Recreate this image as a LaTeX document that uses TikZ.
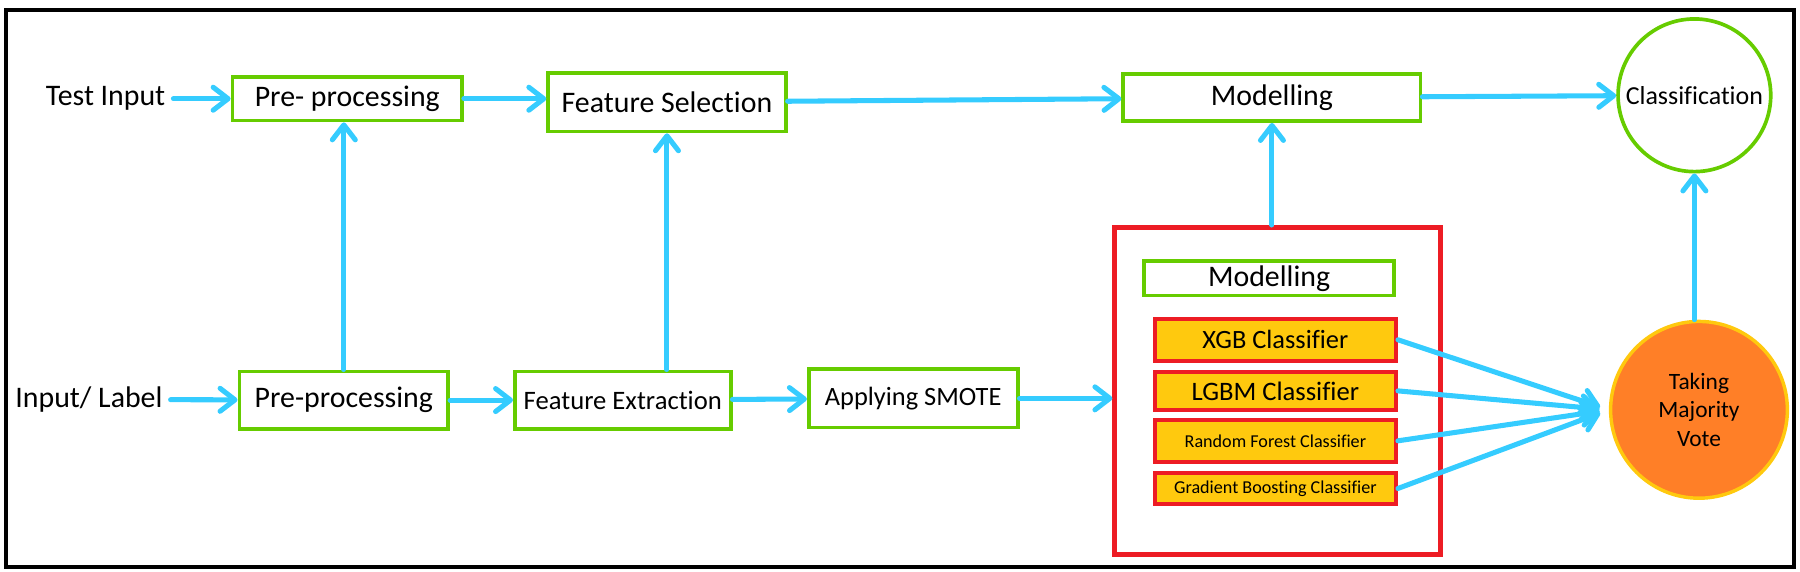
\documentclass[tikz,border=0pt]{standalone}
\usepackage{fontspec}
\setmainfont[Ligatures=NoCommon]{Carlito}
\usetikzlibrary{arrows.meta,positioning}
\definecolor{boxgreen}{RGB}{102,204,0}
\definecolor{arrowblue}{RGB}{53,204,255}
\definecolor{clsgold}{RGB}{255,201,14}
\definecolor{clsred}{RGB}{237,28,36}
\definecolor{voteorange}{RGB}{255,127,39}
\newcommand{\setfs}[2]{\fontsize{#1}{#2}\selectfont}

\begin{document}
\begin{tikzpicture}[x=0.5pt,y=-0.5pt,
		stage/.style={draw=boxgreen,line width=1.6pt,inner sep=2pt,font=\setfs{13}{15}},
		clsbox/.style={draw=clsred,fill=clsgold,line width=1.75pt,inner sep=1pt,minimum width=105pt},
		flow/.style={draw=arrowblue,line width=2.2pt,line cap=round,-{Straight Barb[round,length=6.5pt,width=10pt]}}]
		\useasboundingbox (0,0) rectangle (1568,498);
		\draw[line width=1.7pt] (5,8.5) rectangle (1563,494);

		\node[font=\setfs{13}{15}] (testin) at (92,86) {Test Input};
		\node[stage,minimum width=100pt,minimum height=19pt] (pre1) at (302.5,86) {Pre- processing};
		\node[stage,minimum width=103.5pt,minimum height=25.5pt] (featsel) at (581,89) {Feature Selection};
		\node[stage,minimum width=129.5pt,minimum height=20.5pt] (model1) at (1108,85) {Modelling};
		\node[stage,circle,minimum size=66.5pt,inner sep=0pt,font=\setfs{11.3}{13}] (classif) at (1476,83) {Classification};

		\node[font=\setfs{13}{15}] (inlabel) at (77.5,348) {Input/ Label};
		\node[stage,minimum width=91pt,minimum height=25pt] (pre2) at (299.5,348.5) {Pre-processing};
		\node[stage,minimum width=94pt,minimum height=25pt,font=\setfs{11.6}{14}] (featext) at (542.5,348.5) {Feature Extraction};
		\node[stage,minimum width=91pt,minimum height=25.5pt,font=\setfs{11.5}{14}] (smote) at (795.5,347) {Applying SMOTE};

		\node[draw=clsred,line width=2pt,minimum width=142pt,minimum height=142.5pt] (ensemble) at (1113,340.5) {};
		\node[stage,minimum width=109pt,minimum height=15pt,inner ysep=1pt] (model2) at (1105.5,242.5) {Modelling};
		\node[clsbox,minimum height=18.25pt,font=\setfs{11.5}{14}] (xgb) at (1111,296) {XGB Classifier};
		\node[clsbox,minimum height=16.75pt,font=\setfs{11.6}{14}] (lgbm) at (1111,340.5) {LGBM Classifier};
		\node[clsbox,minimum height=18.25pt,font=\setfs{7.9}{10}] (rf) at (1111,384) {Random Forest Classifier};
		\node[clsbox,minimum height=13.75pt,font=\setfs{7.9}{10}] (gb) at (1111,425.5) {Gradient Boosting Classifier};

		\node[circle,draw=clsgold,fill=voteorange,line width=1.5pt,minimum size=77pt,align=center,font=\setfs{10.2}{12.3}] (vote) at (1480,357) {Taking\\Majority\\Vote};

		\draw[flow] (testin) -- (pre1);
		\draw[flow] (pre1) -- (pre1 -| featsel.west);
		\draw[flow] (featsel) -- (model1);
		\draw[flow] (model1) -- (classif);
		\draw[flow] (pre2) -- (pre2 |- pre1.south);
		\draw[flow] (featsel.south |- featext.north) -- (featsel.south);
		\draw[flow] (model1.south |- ensemble.north) -- (model1.south);
		\draw[flow] (classif.south |- vote.north) -- (classif.south);
		\draw[flow] (inlabel) -- (pre2);
		\draw[flow] (pre2) -- (featext);
		\draw[flow] (featext) -- (smote);
		\draw[flow] (smote) -- (smote -| ensemble.west);
		\foreach \c in {xgb,lgbm,rf,gb}
			\draw[flow,shorten >=4pt] (\c.east) -- (vote.west);
	\end{tikzpicture}
\end{document}
